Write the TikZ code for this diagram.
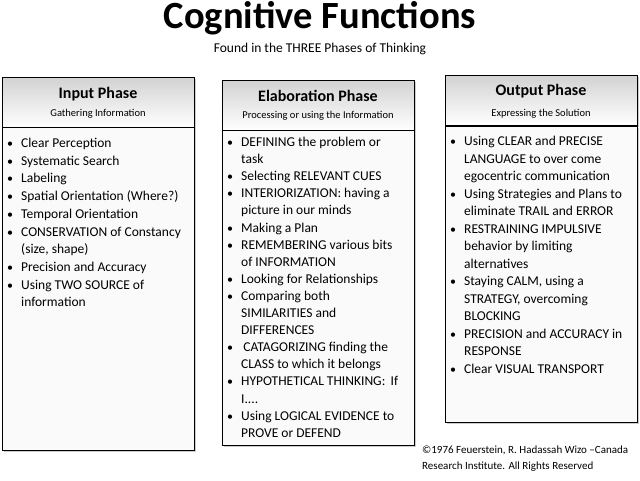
\documentclass[tikz,border=0pt]{standalone}
\usepackage{fontspec}
\setmainfont{Carlito}
\usetikzlibrary{positioning,shadows}

\tikzset{
  phasehead/.style={draw=black, thick, top color=gray!35, bottom color=white,
    minimum width=192pt, minimum height=50pt, align=center, anchor=north west,
    drop shadow={shadow xshift=2pt, shadow yshift=-2pt, opacity=.4}},
  phasebody/.style={draw=black, thick, fill=gray!4, anchor=north west,
    minimum width=192pt, inner sep=0pt,
    drop shadow={shadow xshift=2pt, shadow yshift=-2pt, opacity=.4}},
  phaselist/.style={anchor=north west, align=left, inner sep=0pt},
  headtitle/.style={font=\bfseries\fontsize{16}{18}\selectfont},
  headsub/.style={font=\fontsize{10.5}{12}\selectfont}
}
\newcommand{\itm}{{\large\textbullet}\hspace{8pt}}
\newcommand{\cnt}{\hphantom{{\large\textbullet}\hspace{8pt}}}

\begin{document}
\begin{tikzpicture}[x=1pt,y=-1pt]
  \useasboundingbox (0,0) rectangle (640,480);

  \node (title) at (320,18) {\bfseries\fontsize{38.5}{40}\selectfont Cognitive Functions};
  \node (subtitle) at (320,49) {\fontsize{13.5}{15}\selectfont Found in the THREE Phases of Thinking};

  % input phase
  \node[phasehead] (inhead) at (2,77) {};
  \node[headtitle] at (98,94) {Input Phase};
  \node[headsub] at (98,114) {Gathering Information};
  \node[phasebody, minimum height=323pt] (inbody) at (2,127) {};
  \node[phaselist, font=\fontsize{13.5}{17.7}\selectfont] (inlist) at (7,138) {%
    \itm Clear Perception\\
    \itm Systematic Search\\
    \itm Labeling\\
    \itm Spatial Orientation (Where?)\\
    \itm Temporal Orientation\\
    \itm CONSERVATION of Constancy\\
    \cnt (size, shape)\\
    \itm Precision and Accuracy\\
    \itm Using TWO SOURCE of\\
    \cnt information};

  % elaboration phase
  \node[phasehead] (elhead) at (222,80) {};
  \node[headtitle] at (318,96) {Elaboration Phase};
  \node[headsub] at (318,116) {Processing or using the Information};
  \node[phasebody, minimum height=315pt] (elbody) at (222,130) {};
  \node[phaselist, font=\fontsize{13.5}{17.1}\selectfont] (ellist) at (227,137) {%
    \itm DEFINING the problem or\\
    \cnt task\\
    \itm Selecting RELEVANT CUES\\
    \itm INTERIORIZATION: having a\\
    \cnt picture in our minds\\
    \itm Making a Plan\\
    \itm REMEMBERING various bits\\
    \cnt of INFORMATION\\
    \itm Looking for Relationships\\
    \itm Comparing both\\
    \cnt SIMILARITIES and\\
    \cnt DIFFERENCES\\
    \itm\,CATAGORIZING finding the\\
    \cnt CLASS to which it belongs\\
    \itm HYPOTHETICAL THINKING:\,\ If\\
    \cnt I....\\
    \itm Using LOGICAL EVIDENCE to\\
    \cnt PROVE or DEFEND};

  % output phase
  \node[phasehead] (outhead) at (445,75) {};
  \node[headtitle] at (541,91) {Output Phase};
  \node[headsub] at (541,114) {Expressing the Solution};
  \node[phasebody, minimum height=296pt] (outbody) at (445,126) {};
  \node[phaselist, font=\fontsize{13.5}{17.5}\selectfont] (outlist) at (450,136) {%
    \itm Using CLEAR and PRECISE\\
    \cnt LANGUAGE to over come\\
    \cnt egocentric communication\\
    \itm Using Strategies and Plans to\\
    \cnt eliminate TRAIL and ERROR\\
    \itm RESTRAINING IMPULSIVE\\
    \cnt behavior by limiting\\
    \cnt alternatives\\
    \itm Staying CALM, using a\\
    \cnt STRATEGY, overcoming\\
    \cnt BLOCKING\\
    \itm PRECISION and ACCURACY in\\
    \cnt RESPONSE\\
    \itm Clear VISUAL TRANSPORT};

  \node[phaselist, font=\fontsize{11}{16}\selectfont] (copyright) at (422,446) {%
    \textcopyright1976 Feuerstein, R. Hadassah Wizo --Canada\\
    Research Institute. All Rights Reserved};
\end{tikzpicture}
\end{document}
